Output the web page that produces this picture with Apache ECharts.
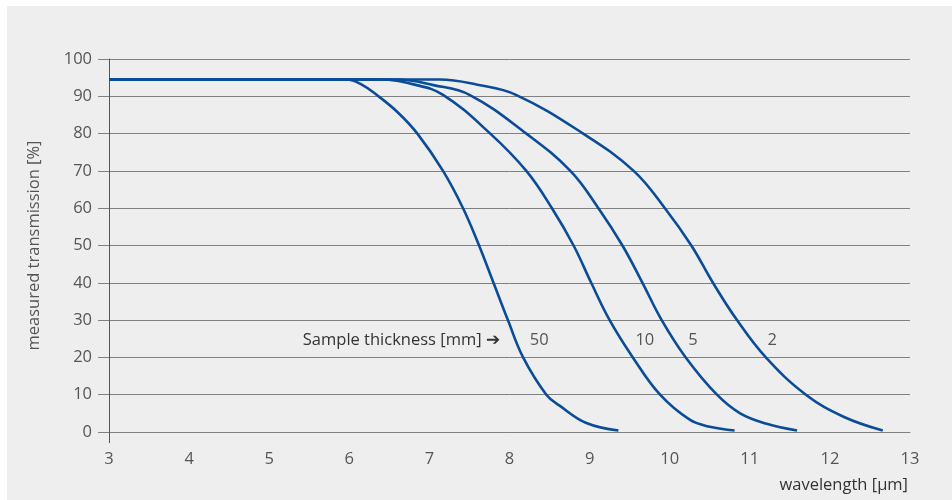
<!DOCTYPE html>
<html>
<head>
<meta charset="utf-8">
<script src="https://cdn.jsdelivr.net/npm/echarts@6/dist/echarts.min.js"></script>
<style>
  html, body { margin: 0; padding: 0; background: #ffffff; }
  #chart { position: absolute; left: 7px; top: 6px; width: 945px; height: 494px; background: #eeeeee; }
</style>
</head>
<body>
<div id="chart"></div>
<script>
// Sample thickness categories (mm)
const thicknesses = ['50', '10', '5', '2'];

// Transmission curves: [wavelength µm, transmission %]
const curve50 = [[3,94.5],[5.5,94.5],[5.97,94.5],[6.15,93.2],[6.34,90.4],[6.6,85.8],[6.85,80],[7.17,70],[7.42,60],[7.62,50],[7.8,40],[7.98,30],[8.17,20],[8.46,10],[8.63,7],[8.96,2.4],[9.36,0.4]];
const curve10 = [[3,94.5],[6.0,94.5],[6.38,94.5],[6.8,93.2],[7.17,90.4],[7.76,80],[8.21,70],[8.53,60],[8.8,50],[9.02,40],[9.25,30],[9.54,20],[9.88,10],[10.25,3.3],[10.5,1.4],[10.81,0.4]];
const curve5  = [[3,94.5],[6.0,94.5],[6.6,94.5],[7.05,93],[7.5,90.4],[8.21,80],[8.76,70],[9.11,60],[9.41,50],[9.66,40],[9.9,30],[10.2,20],[10.59,10],[10.88,5.0],[11.21,2.2],[11.59,0.4]];
const curve2  = [[3,94.5],[6.5,94.5],[7.13,94.5],[7.6,93.1],[8.08,90.4],[8.92,80],[9.55,70],[9.94,60],[10.27,50],[10.54,40],[10.84,30],[11.2,20],[11.7,10],[12.17,4.1],[12.66,0.4]];
const curves = [curve50, curve10, curve5, curve2];

// Annotation anchors in data space [wavelength, transmission]
const thicknessLabelPos = [[8.37,24.7],[9.69,24.7],[10.29,24.7],[11.28,24.7]];
const captionPos = [7.88, 24.7];
const captionText = 'Sample thickness [mm] \u2794';

// Axis ticks
const xTicks = { min: 3, max: 13, interval: 1 };
const yTicks = { min: 0, max: 100, interval: 10 };

const FONT = 'Open Sans';
const FS = 16.5;
const TXT = '#555555';
const LINE = '#0b4c98';

const chart = echarts.init(document.getElementById('chart'), null, { renderer: 'canvas' });

const series = curves.map((c, i) => ({
  type: 'line',
  name: thicknesses[i],
  data: c,
  smooth: 0.4,
  showSymbol: false,
  symbol: 'none',
  lineStyle: { color: LINE, width: 2.6 },
  silent: true,
  z: 3,
  markPoint: {
    symbol: 'circle',
    symbolSize: 0,
    silent: true,
    data: [{
      coord: thicknessLabelPos[i],
      label: { show: true, formatter: thicknesses[i], color: TXT, fontFamily: FONT, fontSize: FS, position: 'inside' }
    }].concat(i === 0 ? [{
      coord: captionPos,
      label: { show: true, formatter: captionText, color: '#333333', fontFamily: FONT, fontSize: FS, position: 'left', distance: 0 }
    }] : [])
  }
}));

chart.setOption({
  animation: false,
  backgroundColor: '#eeeeee',
  grid: { left: 102, top: 53, right: 42, bottom: 68, containLabel: false },
  xAxis: {
    type: 'value',
    min: xTicks.min, max: xTicks.max, interval: xTicks.interval,
    name: 'wavelength [\u03bcm]',
    nameLocation: 'end',
    nameGap: -2,
    nameTextStyle: { color: '#333333', fontFamily: FONT, fontSize: FS, align: 'right', verticalAlign: 'top', padding: [45, 0, 0, 0] },
    axisLine: { show: true, lineStyle: { color: '#808080', width: 1 } },
    axisTick: { show: true, customValues: [3], length: 11, lineStyle: { color: '#555555', width: 1 } },
    axisLabel: { color: TXT, fontFamily: FONT, fontSize: FS, margin: 19 },
    splitLine: { show: false }
  },
  yAxis: {
    type: 'value',
    min: yTicks.min, max: yTicks.max, interval: yTicks.interval,
    name: 'measured transmission [%]',
    nameLocation: 'middle',
    nameGap: 66,
    nameTextStyle: { color: TXT, fontFamily: FONT, fontSize: FS },
    axisLine: { show: true, lineStyle: { color: '#555555', width: 1 } },
    axisTick: { show: true, length: 11, lineStyle: { color: '#808080', width: 1 } },
    axisLabel: { color: TXT, fontFamily: FONT, fontSize: FS, margin: 17 },
    splitLine: { show: true, lineStyle: { color: '#808080', width: 1 } }
  },
  series: series
});
</script>
</body>
</html>
